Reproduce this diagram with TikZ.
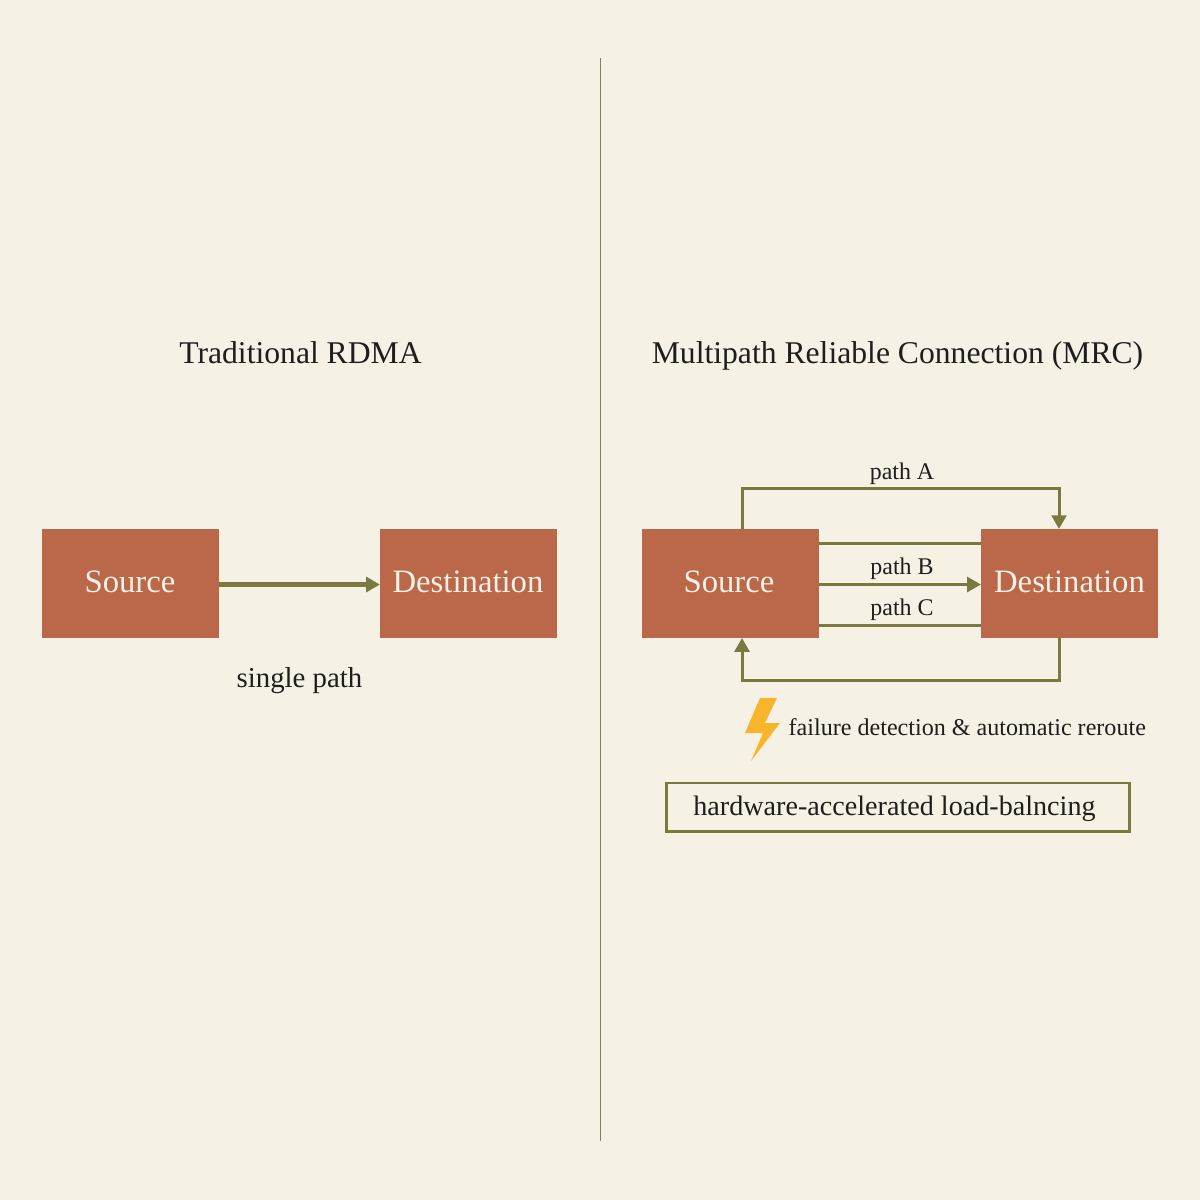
\documentclass[tikz,border=0pt]{standalone}
\usepackage{fontspec}
\setmainfont{Liberation Serif}
\usepackage{xcolor}
\usetikzlibrary{arrows.meta,positioning}
\definecolor{paper}{HTML}{F5F1E4}
\definecolor{brick}{HTML}{BB674A}
\definecolor{olive}{HTML}{7A7A3E}
\definecolor{rule}{HTML}{80805C}
\definecolor{bolt}{HTML}{F7B52B}
\definecolor{ink}{HTML}{1E1E1C}

\begin{document}
\begin{tikzpicture}[x=0.01cm,y=-0.01cm,>={Triangle[length=3.9pt,width=4.2pt]},ink]
  \tikzstyle{host}=[fill=brick,minimum width=1.77cm,minimum height=1.09cm,
    inner sep=0pt,outer sep=0pt]
  \tikzstyle{hostlabel}=[text=paper,inner sep=0pt,font=\fontsize{9.3}{11}\selectfont]
  \tikzstyle{title}=[anchor=base,inner sep=0pt,font=\fontsize{9.0}{11}\selectfont]
  \tikzstyle{pathlabel}=[anchor=base,inner sep=0pt,font=\fontsize{6.8}{8}\selectfont]
  \tikzstyle{link}=[draw=olive,line width=0.85pt]

  \fill[paper,use as bounding box] (0,0) rectangle (1200,1200);

  % divider
  \coordinate (RuleT) at (600.5,58);
  \coordinate (RuleB) at (600.5,1141);
  \draw[rule,line width=0.55pt] (RuleT) -- (RuleB);

  % left side
  \node[title]  (TitleL) at (300.5,363) {Traditional RDMA};
  \node[host]   (SrcL) at (130.5,583.5) {};
  \node[host]   (DstL) at (468.5,583.5) {};
  \node[hostlabel] (SrcLText) at (130,582) {Source};
  \node[hostlabel] (DstLText) at (468,582) {Destination};
  \node[pathlabel,font=\fontsize{8.2}{10}\selectfont] (Single) at (299.5,687) {single path};

  \coordinate (MidL) at (300,584.5);
  \draw[link,line width=1.35pt,->] (SrcL.east |- MidL) -- (DstL.west |- MidL);

  % right side
  \node[title]  (TitleR) at (897.5,363) {Multipath Reliable Connection (MRC)};
  \node[host]   (SrcR) at (730.5,583.5) {};
  \node[host]   (DstR) at (1069.5,583.5) {};
  \node[hostlabel] (SrcRText) at (729,582) {Source};
  \node[hostlabel] (DstRText) at (1069.5,582) {Destination};

  \coordinate (TopL) at (742,488);
  \coordinate (TopR) at (1059,488);
  \coordinate (BotL) at (742,680);
  \coordinate (BotR) at (1059,680);
  \coordinate (UpperL) at (819,543);
  \coordinate (MidR) at (819,584.5);
  \coordinate (LowerL) at (819,625);

  \draw[link,->] (SrcR.north -| TopL) -- (TopL) -- (TopR) -- (DstR.north -| TopR);
  \draw[link] (UpperL) -- (UpperL -| DstR.west);
  \draw[link,->] (MidR) -- (MidR -| DstR.west);
  \draw[link] (LowerL) -- (LowerL -| DstR.west);
  \draw[link,->] (DstR.south -| BotR) -- (BotR) -- (BotL) -- (SrcR.south -| BotL);

  \node[pathlabel] (PathA) at (902,479) {path A};
  \node[pathlabel] (PathB) at (902,574) {path B};
  \node[pathlabel] (PathC) at (902,615) {path C};

  % failure note
  \fill[bolt] (760,698) -- (777,698) -- (765,723) -- (780,723) -- (751,761) -- (763,733) -- (745,733) -- cycle;
  \node[anchor=west,inner sep=0pt,font=\fontsize{6.85}{9}\selectfont] (Failure) at (788,727) {failure detection \& automatic reroute};

  \node[draw=olive,line width=0.85pt,minimum width=4.63cm,minimum height=0.48cm,inner sep=0pt,
    font=\fontsize{8.0}{10}\selectfont] (Balance) at (898,807) {\hspace*{-0.07cm}\raisebox{-2.5pt}[0pt][0pt]{hardware-accelerated load-balncing}};
\end{tikzpicture}
\end{document}
